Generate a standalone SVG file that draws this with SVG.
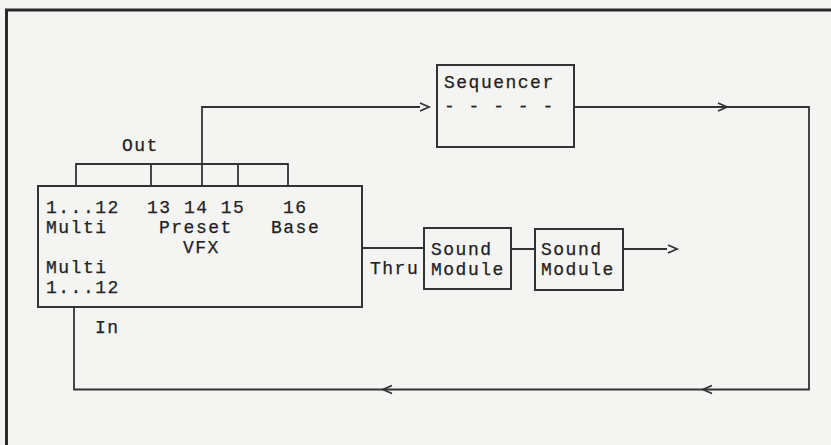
<svg xmlns="http://www.w3.org/2000/svg" width="831" height="445" viewBox="0 0 831 445">
<style>
.t{font-family:"Liberation Mono","Courier New",monospace;font-size:18px;letter-spacing:1.5px;fill:#222;stroke:#222;stroke-width:0.25}
.ln{fill:none;stroke:#333;stroke-width:1.8}
.box{fill:none;stroke:#333;stroke-width:2}
.chev{fill:none;stroke:#333;stroke-width:1.8;stroke-linejoin:miter}
</style>
<rect x="0" y="0" width="831" height="445" fill="#f4f4f2"/>
<g id="frame">
<path d="M6.5 445 V10 H831" fill="none" stroke="#2a2a2a" stroke-width="3"/>
</g>
<g id="connectors">
<path class="ln" d="M76 187 V164 H288 V187 M151 164 V187 M238 164 V187 M202 187 V107 H420"/>
<path class="ln" d="M574 107 H809 V389.5 H74 V307"/>
<path class="ln" d="M362 248 H424 M511 249 H535 M623 249 H667"/>
<path class="chev" d="M420 103 L429 107 L420 111"/>
<path class="chev" d="M718 103 L727 107 L718 111"/>
<path class="chev" d="M668 245 L677 249 L668 253"/>
<path class="chev" d="M392 385.5 L383 389.5 L392 393.5"/>
<path class="chev" d="M712 385.5 L703 389.5 L712 393.5"/>
<text class="t" x="122" y="151">Out</text>
<text class="t" x="95" y="333">In</text>
<text class="t" x="370" y="274">Thru</text>
</g>
<g id="sequencer">
<rect class="box" x="437" y="65" width="137" height="82"/>
<text class="t" x="444" y="88">Sequencer</text>
<text class="t" x="444" y="112">- - - - -</text>
</g>
<g id="vfx">
<rect class="box" x="38" y="186" width="324" height="121"/>
<text class="t" x="46" y="213">1...12</text>
<text class="t" x="147" y="213">13 14 15</text>
<text class="t" x="283" y="213">16</text>
<text class="t" x="46" y="233">Multi</text>
<text class="t" x="159" y="233">Preset</text>
<text class="t" x="271" y="233">Base</text>
<text class="t" x="183" y="253">VFX</text>
<text class="t" x="46" y="273">Multi</text>
<text class="t" x="46" y="293">1...12</text>
</g>
<g id="sound1">
<rect class="box" x="424" y="228" width="87" height="61"/>
<text class="t" x="431" y="255">Sound</text>
<text class="t" x="431" y="275">Module</text>
</g>
<g id="sound2">
<rect class="box" x="535" y="229" width="88" height="61"/>
<text class="t" x="541" y="255">Sound</text>
<text class="t" x="541" y="275">Module</text>
</g>
</svg>
